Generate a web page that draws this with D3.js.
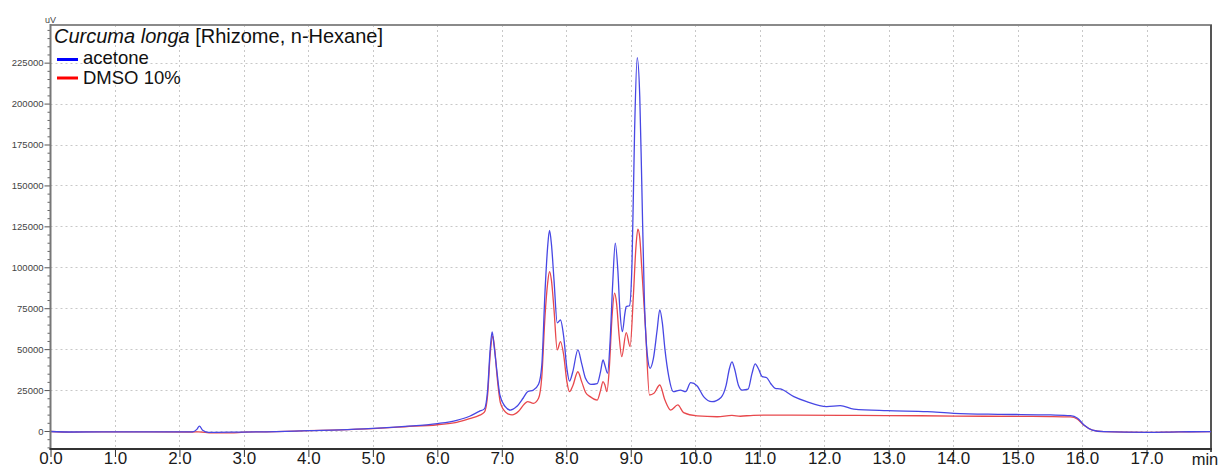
<!DOCTYPE html>
<html><head><meta charset="utf-8">
<script src="https://cdn.jsdelivr.net/npm/d3@7/dist/d3.min.js"></script>
<style>
body{margin:0;background:#fff;}
svg{display:block;font-family:"Liberation Sans",Arial,sans-serif;}
</style>
</head><body>
<svg id="chart" width="1232" height="468"></svg>
<script>
// ---- data (time in min, signal in uV) ----
const acetoneTime = [0.0,0.3,0.8,1.5,2.2,2.27,2.31,2.36,2.45,2.8,3.5,4.0,4.5,5.0,5.5,6.0,6.3,6.5,6.65,6.73,6.78,6.82,6.85,6.88,6.92,6.97,7.05,7.13,7.23,7.33,7.40,7.49,7.57,7.62,7.67,7.71,7.74,7.77,7.81,7.86,7.91,7.96,8.01,8.05,8.10,8.18,8.24,8.30,8.38,8.48,8.53,8.57,8.60,8.64,8.68,8.72,8.76,8.80,8.83,8.87,8.91,8.93,8.98,9.02,9.06,9.10,9.14,9.17,9.21,9.26,9.30,9.35,9.41,9.45,9.49,9.53,9.59,9.66,9.77,9.85,9.93,10.03,10.13,10.26,10.40,10.48,10.53,10.57,10.61,10.67,10.73,10.82,10.88,10.93,10.98,11.04,11.11,11.17,11.24,11.32,11.53,11.73,12.04,12.25,12.46,12.98,13.60,14.01,14.73,15.51,15.82,15.93,16.03,16.16,16.34,17.01,17.5,18.0];
const acetoneValue = [-300,-600,-500,-500,-500,1000,3000,500,-800,-700,-400,200,700,1600,2800,4500,6500,9000,12000,13500,25000,50000,60500,52000,38000,22000,15000,12800,14900,20000,24000,25000,28500,40000,85000,112000,122500,114000,92000,66000,67800,57600,38000,30500,36000,49500,41000,32000,28500,29000,36000,43400,40000,35300,55000,90000,114700,98000,75000,60700,72000,76000,76500,103000,184000,228000,204000,153000,82000,45400,38300,44000,62000,74000,66000,50000,33200,24000,25000,24000,29500,27500,21000,17900,20500,28000,38000,42200,38000,28000,25000,25500,35000,41000,38000,33200,32500,29000,26100,25700,21000,17900,14900,15500,13400,12400,11800,10800,10200,9800,9400,7800,3700,600,-400,-800,-500,-400];

const dmsoTime = [0.0,0.3,0.8,2.2,2.3,2.5,2.8,3.0,3.5,4.0,4.5,5.0,5.5,6.0,6.3,6.5,6.65,6.73,6.78,6.82,6.86,6.89,6.93,6.98,7.06,7.16,7.26,7.35,7.40,7.49,7.57,7.62,7.67,7.71,7.74,7.77,7.81,7.86,7.91,7.96,8.01,8.05,8.10,8.18,8.24,8.30,8.37,8.48,8.53,8.57,8.60,8.63,8.67,8.71,8.75,8.78,8.82,8.86,8.93,8.99,9.04,9.08,9.11,9.14,9.17,9.23,9.29,9.36,9.45,9.53,9.62,9.73,9.82,10.03,10.34,10.57,10.7,10.9,11.5,12.5,13.5,14.5,15.5,15.82,15.93,16.03,16.16,16.34,17.01,17.5,18.0];
const dmsoValue = [-300,-700,-500,-600,-500,-1200,-1200,-700,-400,200,700,1500,2600,3800,5300,7500,9500,11500,22000,47000,58000,50000,32000,17000,11500,9800,12000,16500,18000,16900,20000,33000,70000,90000,97400,92000,74000,49500,54600,46400,30000,24000,27500,36200,30000,23500,21000,18900,24500,30100,28000,24000,40000,70000,84200,78000,58000,45400,60100,51500,82100,112000,123300,118000,100000,61700,22000,23000,28100,18900,12800,15900,11200,9200,8700,9500,9000,9600,9700,9500,9300,9000,8800,8600,7200,3500,600,-400,-800,-500,-400];

const xTickValues = [0,1,2,3,4,5,6,7,8,9,10,11,12,13,14,15,16,17];
const xTickLabels = ["0.0","1.0","2.0","3.0","4.0","5.0","6.0","7.0","8.0","9.0","10.0","11.0","12.0","13.0","14.0","15.0","16.0","17.0"];
const yTickValues = [0,25000,50000,75000,100000,125000,150000,175000,200000,225000];
const yTickLabels = ["0","25000","50000","75000","100000","125000","150000","175000","200000","225000"];
const yMinorTicks = [-10000,-5000,5000,10000,15000,20000,30000,35000,40000,45000,55000,60000,65000,70000,80000,85000,90000,95000,105000,110000,115000,120000,130000,135000,140000,145000,155000,160000,165000,170000,180000,185000,190000,195000,205000,210000,215000,220000,230000,235000,240000,245000];

const seriesNames = ["acetone","DMSO 10%"];
const titleItalic = "Curcuma longa";
const titleRest = " [Rhizome, n-Hexane]";

// ---- layout ----
const svg = d3.select("#chart");
const L = 50.5, R = 1211, T = 25, B = 449;
const x = d3.scaleLinear().domain([0,18]).range([L,R]);
const y = d3.scaleLinear().domain([-11000,248000]).range([B,T]);

// grid
const grid = svg.append("g").attr("stroke","#c8c8c8").attr("stroke-width",1).attr("stroke-dasharray","2,3");
grid.selectAll("line.v").data(xTickValues.filter(d=>d>0)).enter().append("line")
  .attr("x1",d=>Math.round(x(d))+0.5).attr("x2",d=>Math.round(x(d))+0.5).attr("y1",T).attr("y2",B);
grid.selectAll("line.h").data(yTickValues).enter().append("line")
  .attr("x1",L).attr("x2",R).attr("y1",d=>Math.round(y(d))+0.5).attr("y2",d=>Math.round(y(d))+0.5);

// frame top & right
svg.append("line").attr("x1",L).attr("x2",R+1).attr("y1",T).attr("y2",T).attr("stroke","#8a8a8a").attr("stroke-width",2);
svg.append("line").attr("x1",R).attr("x2",R).attr("y1",T).attr("y2",B+3).attr("stroke","#555").attr("stroke-width",2);

// curves
const lineGen = d3.line().x(d=>x(d[0])).y(d=>y(d[1])).curve(d3.curveMonotoneX);
const dmso = dmsoTime.map((t,i)=>[t,dmsoValue[i]]);
const acet = acetoneTime.map((t,i)=>[t,acetoneValue[i]]);
svg.append("path").attr("d",lineGen(dmso)).attr("fill","none").attr("stroke","#e8484c").attr("stroke-width",1.3);
svg.append("path").attr("d",lineGen(acet)).attr("fill","none").attr("stroke","#4747e4").attr("stroke-width",1.3);

// y axis minor
svg.append("g").attr("transform",`translate(${L},0)`)
  .call(d3.axisLeft(y).tickValues(yMinorTicks).tickSize(3).tickFormat(""))
  .call(g=>{g.select(".domain").remove(); g.selectAll("line").attr("stroke","#666");});
// y axis major
const yAx = svg.append("g").attr("transform",`translate(${L},0)`)
  .call(d3.axisLeft(y).tickValues(yTickValues).tickSize(6).tickPadding(1)
        .tickFormat((d,i)=>yTickLabels[i]));
yAx.select(".domain").remove();
yAx.selectAll("line").attr("stroke","#555");
yAx.selectAll("text").attr("font-size","9.5px").attr("fill","#444").attr("font-family","'Liberation Sans',Arial,sans-serif");
svg.append("line").attr("x1",L).attr("x2",L).attr("y1",T-1).attr("y2",B+1).attr("stroke","#777").attr("stroke-width",2);

// x axis
const xAx = svg.append("g").attr("transform",`translate(0,${B})`)
  .call(d3.axisBottom(x).tickValues(xTickValues).tickSize(8).tickPadding(-5)
        .tickFormat((d,i)=>xTickLabels[i]));
xAx.select(".domain").remove();
xAx.selectAll("line").attr("stroke","#333");
xAx.selectAll("text").attr("font-size","17px").attr("fill","#1a1a1a").attr("font-family","'Liberation Sans',Arial,sans-serif");
svg.append("line").attr("x1",L-1).attr("x2",R+1).attr("y1",B).attr("y2",B).attr("stroke","#333").attr("stroke-width",2);
svg.append("text").attr("x",1205).attr("y",465).attr("text-anchor","middle").attr("font-size","16.5px").attr("fill","#1a1a1a").text("min");

// unit
svg.append("text").attr("x",45).attr("y",23).attr("font-size","9px").attr("fill","#444").text("uV");

// legend
const title = svg.append("text").attr("x",54).attr("y",43).attr("font-size","20px").attr("fill","#111");
title.append("tspan").attr("font-style","italic").text(titleItalic);
title.append("tspan").text(titleRest);
const legColors = ["#0000ff","#ff0000"];
const legY = [63.5,84];
const legLineY = [59.5,78];
seriesNames.forEach((n,i)=>{
  svg.append("line").attr("x1",57).attr("x2",78).attr("y1",legLineY[i]).attr("y2",legLineY[i])
    .attr("stroke",legColors[i]).attr("stroke-width",3);
  svg.append("text").attr("x",83).attr("y",legY[i]).attr("font-size","18.5px").attr("fill","#111").text(n);
});
</script>
</body></html>
